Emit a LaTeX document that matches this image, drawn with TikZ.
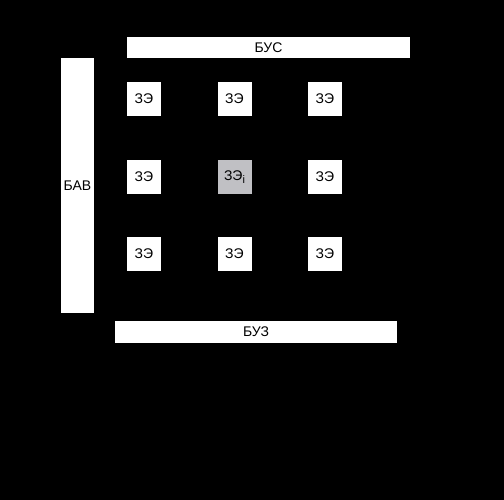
\documentclass[tikz,border=0pt]{standalone}
\usepackage{fontspec}
\setmainfont{Liberation Sans}
\tikzstyle{cell}=[rectangle, fill=white, inner sep=0pt, minimum size=34pt, font=\fontsize{14}{16}\selectfont]
\tikzstyle{bar}=[rectangle, fill=white, inner sep=0pt, font=\fontsize{14}{16}\selectfont]
\newcommand{\cell}{\node[cell]}
\definecolor{cellgrey}{RGB}{192,192,196}

\begin{document}
\begin{tikzpicture}[x=1pt,y=-1pt]
            \fill[black] (0,0) rectangle (504,500);
            \useasboundingbox (0,0) rectangle (504,500);
            \node[bar, minimum width=283pt, minimum height=21pt] (bus) at (268.5,47.5){БУС};
            \node[bar, minimum width=33pt, minimum height=255pt] (bav) at (77.5,185.5){БАВ};
            \node[bar, minimum width=282pt, minimum height=22pt] (buz) at (256,332){БУЗ};
            \cell (a) at (144,99){ЗЭ};
            \cell (b) at (234.5,99){ЗЭ};
            \cell (c) at (325,99){ЗЭ};
            \cell (d) at (144,177){ЗЭ};
            \cell[fill=cellgrey] (i) at (234.5,177){ЗЭ\raisebox{-3.5pt}{\fontsize{11}{12}\selectfont i}};
            \cell (e) at (325,177){ЗЭ};
            \cell (f) at (144,254){ЗЭ};
            \cell (g) at (234.5,254){ЗЭ};
            \cell (h) at (325,254){ЗЭ};
        \end{tikzpicture}
\end{document}
